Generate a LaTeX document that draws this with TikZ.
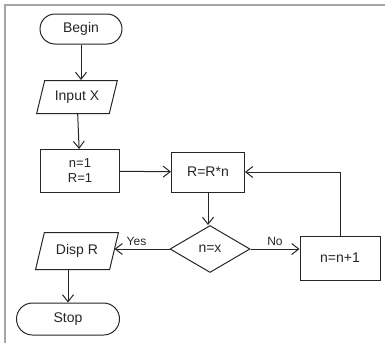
\documentclass[tikz,border=0pt]{standalone}
\usepackage{fontspec}
\setmainfont{Liberation Sans}
\usetikzlibrary{shapes.geometric,shapes.misc,arrows.meta}
\begin{document}
\begin{tikzpicture}[x=1pt,y=-1pt,
  every node/.style={font=\fontsize{14}{16}\selectfont, text=black!85},
  ln/.style={line width=1pt, draw=black!85},
  term/.style={ln, rounded rectangle, minimum height=30pt, inner sep=2pt},
  io/.style={ln, trapezium, trapezium left angle=70, trapezium right angle=110, trapezium stretches=true, minimum height=33pt, inner sep=2pt},
  proc/.style={ln, rectangle, minimum height=42pt, align=center, inner sep=2pt},
  dec/.style={ln, diamond, aspect=1.7, minimum width=80pt, minimum height=47pt, inner sep=0pt},
  arr/.style={ln, -{Straight Barb[length=7pt,width=11pt]}},
  lab/.style={font=\fontsize{12}{14}\selectfont}]
\useasboundingbox (0,0) rectangle (385,343);
\draw[black!35, line width=1.5pt] (5,343) -- (5,5) -- (385,5);

\node[term, minimum width=86pt] (begin) at (81,29) {Begin};
\node[io, minimum width=81pt] (input) at (77,97) {Input X};
\node[proc, minimum width=79pt, minimum height=43pt, align=center, font=\fontsize{13}{15}\selectfont] (init) at (80,171) {n=1\\R=1};
\node[proc, minimum width=73pt, minimum height=40pt] (mult) at (208,172) {R=R*n};
\node[dec] (cond) at (210,249) {n=x};
\node[proc, minimum width=80pt, minimum height=44pt] (inc) at (340,258) {n=n+1};
\node[io, minimum width=83pt, minimum height=37pt] (disp) at (77,251) {Disp R};
\node[term, minimum width=107pt, minimum height=32pt] (stop) at (68,319) {Stop};

\draw[arr] (begin.south) -- (begin.south |- input.north);
\draw[arr] (input) -- (init);
\draw[arr] (init) -- (mult);
\draw[arr] (mult) -- (mult |- cond.north);
\draw[arr] (cond.east) -- node[lab, above] {No} (cond.east -| inc.west);
\draw[arr] (cond.west) -- node[lab, above, pos=0.6] {Yes} (cond.west -| disp.east);
\coordinate (corner) at (inc.north |- mult.east);
\draw[arr] (inc.north) -- (corner) -- (mult.east);
\draw[arr] (stop.north |- disp.south) -- (stop.north);
\end{tikzpicture}
\end{document}
